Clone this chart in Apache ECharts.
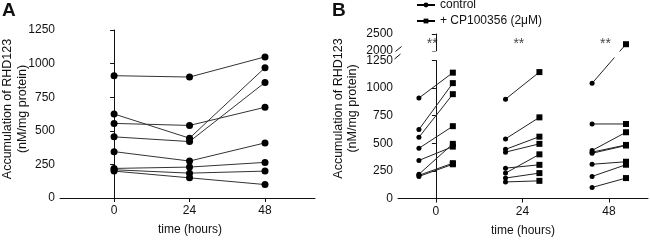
<!DOCTYPE html>
<html>
<head>
<meta charset="utf-8">
<script src="https://cdn.jsdelivr.net/npm/echarts@6/dist/echarts.min.js"></script>
<style>
  html, body { margin: 0; padding: 0; background: #fff; }
  #chart { width: 650px; height: 242px; }
</style>
</head>
<body>
<div id="chart"></div>
<script>
// time points (hours)
const hours = [0, 24, 48];

// panel A: one value per subject at each time point (same index = same subject)
const rhdA_0h = [910, 625, 555, 455, 345, 220, 210, 200];
const rhdA_24h = [900, 445, 540, 420, 275, 230, 185, 150];
const rhdA_48h = [1050, 970, 675, 860, 410, 265, 200, 100];

// panel B: control vs + CP100356 pairs at each time point
const ctrlB_0h = [910, 625, 555, 455, 345, 220, 210, 200];
const cpB_0h = [1140, 1045, 945, 655, 470, 495, 320, 310];
const ctrlB_24h = [900, 540, 445, 420, 275, 230, 185, 150];
const cpB_24h = [1145, 735, 560, 495, 305, 400, 230, 160];
const ctrlB_48h = [1050, 675, 435, 420, 410, 310, 200, 100];
const cpB_48h = [2200, 675, 600, 485, 480, 333, 306, 185];

const sigB = ['**', '**', '**'];
const yTicksLow = [0, 250, 500, 750, 1000, 1250];
const yTicksHigh = [2000, 2500];

const ctrlB = [ctrlB_0h, ctrlB_24h, ctrlB_48h];
const cpB = [cpB_0h, cpB_24h, cpB_48h];
const rhdA = [rhdA_0h, rhdA_24h, rhdA_48h];

const ink = '#111';
const font = 'Liberation Sans, Arial, sans-serif';
const pairShift = 4.7; // hours left/right of the tick for control/treated
const breakLow = 1250;

var chart = echarts.init(document.getElementById('chart'));

const plain = function (v) { return String(v); };

function xAx(grid, min, max, show) {
  return {
    type: 'value', gridIndex: grid, min: min, max: max, show: show,
    splitLine: { show: false },
    axisLine: { show: true, lineStyle: { color: ink, width: 1 } },
    axisTick: { show: true, length: 4, lineStyle: { color: ink }, customValues: hours },
    axisLabel: { color: ink, fontSize: 12, fontFamily: font, margin: 7, customValues: hours, formatter: plain }
  };
}
function yAx(grid, min, max, ticks) {
  return {
    type: 'value', gridIndex: grid, min: min, max: max,
    splitLine: { show: false },
    axisLine: { show: true, lineStyle: { color: ink, width: 1 } },
    axisTick: { show: true, length: 4, lineStyle: { color: ink }, customValues: ticks },
    axisLabel: { color: ink, fontSize: 12, fontFamily: font, margin: 5, customValues: ticks, formatter: plain }
  };
}

const series = [];

// panel A subject lines
rhdA_0h.forEach(function (_, i) {
  series.push({
    type: 'line', xAxisIndex: 0, yAxisIndex: 0,
    data: hours.map(function (h, k) { return [h, rhdA[k][i]]; }),
    symbol: 'circle', symbolSize: 7,
    itemStyle: { color: '#000' },
    lineStyle: { color: '#333', width: 1 },
    silent: true, animation: false
  });
});

// panel B pairs
hours.forEach(function (h, k) {
  ctrlB[k].forEach(function (c, i) {
    const cp = cpB[k][i];
    const high = cp > breakLow;
    series.push({
      type: 'line',
      xAxisIndex: high ? 1 : 2, yAxisIndex: high ? 1 : 2,
      clip: !high,
      data: [
        { value: [h - pairShift, c], symbol: 'circle', symbolSize: 5 },
        { value: [h + pairShift, cp], symbol: 'rect', symbolSize: 6 }
      ],
      itemStyle: { color: '#000' },
      lineStyle: { color: '#222', width: 1 },
      silent: true, animation: false
    });
  });
});

// significance marks
series.push({
  type: 'scatter', xAxisIndex: 1, yAxisIndex: 1,
  data: hours.map(function (h) { return [h - 1, 2500]; }),
  symbolSize: 0,
  label: {
    show: true, position: 'bottom', distance: 3,
    formatter: function (p) { return sigB[p.dataIndex]; },
    color: ink, fontSize: 14, fontFamily: font
  },
  silent: true, animation: false
});

// legend carriers
series.push({
  name: 'control', type: 'line', xAxisIndex: 2, yAxisIndex: 2, data: [],
  symbol: 'circle', symbolSize: 5, itemStyle: { color: '#000' }, lineStyle: { color: '#000', width: 1 }
});
series.push({
  name: '+ CP100356 (2μM)', type: 'line', xAxisIndex: 2, yAxisIndex: 2, data: [],
  symbol: 'rect', symbolSize: 6, itemStyle: { color: '#000' }, lineStyle: { color: '#000', width: 1 }
});

var option = {
  animation: false,
  textStyle: { fontFamily: font },
  title: [
    { text: 'A', left: 2, top: 1, padding: 0, textStyle: { fontSize: 19, fontWeight: 'bold', color: ink, fontFamily: font } },
    { text: 'B', left: 332, top: 1, padding: 0, textStyle: { fontSize: 19, fontWeight: 'bold', color: ink, fontFamily: font } }
  ],
  legend: {
    orient: 'vertical', left: 416, top: -1, padding: 0,
    itemWidth: 18, itemHeight: 6, itemGap: 4,
    textStyle: { fontSize: 12, color: ink, fontFamily: font },
    data: ['control', '+ CP100356 (2μM)']
  },
  grid: [
    { left: 60, top: 30, width: 255, height: 168 },
    { left: 398, top: 34, width: 250, height: 17 },
    { left: 398, top: 60.5, width: 250, height: 138 }
  ],
  xAxis: [
    xAx(0, -17.2, 63.9, true),
    xAx(1, -10.5, 58.8, false),
    xAx(2, -10.5, 58.8, true)
  ],
  yAxis: [
    yAx(0, 0, 1250, yTicksLow),
    yAx(1, 2000, 2500, yTicksHigh),
    yAx(2, 0, 1250, yTicksLow)
  ],
  graphic: [
    // gap of the broken axis over the crossing line
    { type: 'rect', shape: { x: 401, y: 51.5, width: 247, height: 6 }, style: { fill: '#fff' }, z: 100 },
    { type: 'line', shape: { x1: 395.5, y1: 51.5, x2: 401.5, y2: 46.5 }, style: { stroke: ink, lineWidth: 1 }, z: 101 },
    { type: 'line', shape: { x1: 394.5, y1: 59, x2: 400.5, y2: 54 }, style: { stroke: ink, lineWidth: 1 }, z: 101 },
    { type: 'text', x: 15, y: 109, rotation: Math.PI / 2,
      style: { text: 'Accumulation of RHD123\n(nM/mg protein)', align: 'center', verticalAlign: 'middle', lineHeight: 15, fontSize: 12.5, fill: ink, fontFamily: font } },
    { type: 'text', x: 345.5, y: 108.5, rotation: Math.PI / 2,
      style: { text: 'Accumulation of RHD123\n(nM/mg protein)', align: 'center', verticalAlign: 'middle', lineHeight: 14, fontSize: 12.5, fill: ink, fontFamily: font } },
    { type: 'text', x: 190, y: 230, style: { text: 'time (hours)', align: 'center', verticalAlign: 'middle', fontSize: 12, fill: ink, fontFamily: font } },
    { type: 'text', x: 523, y: 231, style: { text: 'time (hours)', align: 'center', verticalAlign: 'middle', fontSize: 12, fill: ink, fontFamily: font } }
  ],
  series: series
};

chart.setOption(option);
</script>
</body>
</html>
